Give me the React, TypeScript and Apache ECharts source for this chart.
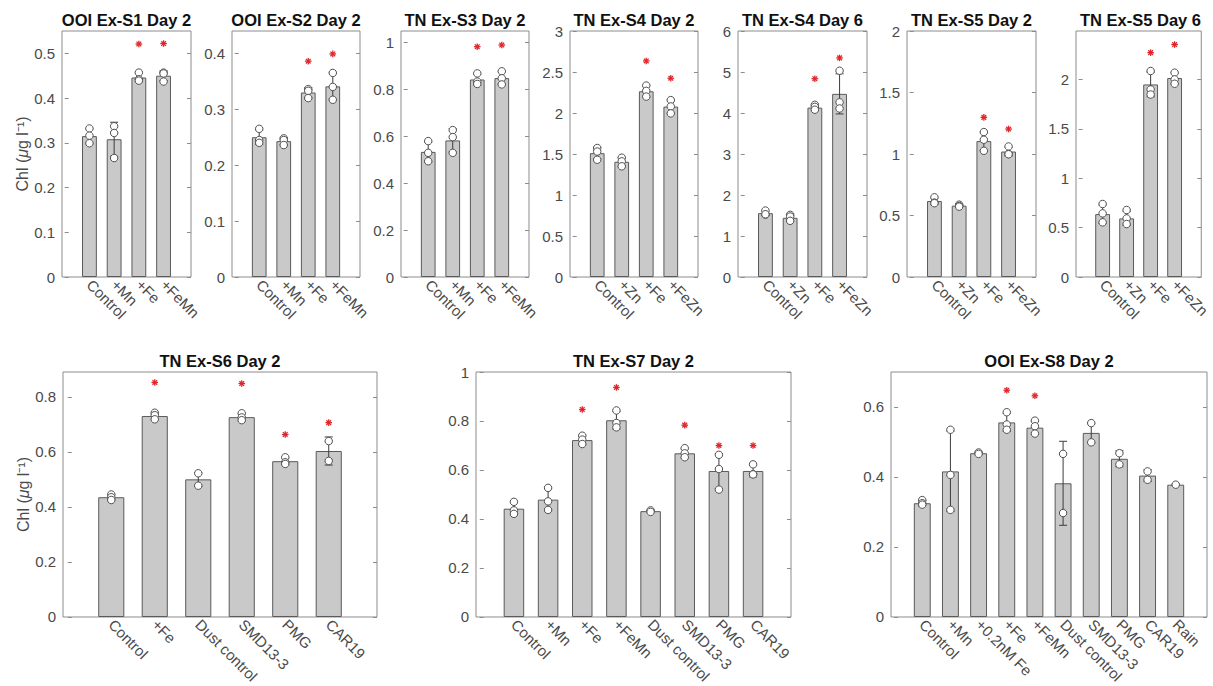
import React, { useEffect, useRef } from 'react';
import * as echarts from 'echarts';

// ---------- data ----------
const catsMn = ['Control', '+Mn', '+Fe', '+FeMn'];
const catsZn = ['Control', '+Zn', '+Fe', '+FeZn'];
const catsS6 = ['Control', '+Fe', 'Dust control', 'SMD13-3', 'PMG', 'CAR19'];
const catsS7 = ['Control', '+Mn', '+Fe', '+FeMn', 'Dust control', 'SMD13-3', 'PMG', 'CAR19'];
const catsS8 = ['Control', '+Mn', '+0.2nM Fe', '+Fe', '+FeMn', 'Dust control', 'SMD13-3', 'PMG', 'CAR19', 'Rain'];

const s1Means = [0.315, 0.308, 0.446, 0.45];
const s1Errs = [0.016, 0.038, 0.01, 0.011];
const s1Pts = [[0.332, 0.316, 0.299], [0.337, 0.322, 0.266], [0.457, 0.442, 0.439], [0.457, 0.455, 0.437]];
const s1Stars = [null, null, 0.521, 0.522];
const s1Ticks = [0, 0.1, 0.2, 0.3, 0.4, 0.5];

const s2Means = [0.25, 0.243, 0.33, 0.341];
const s2Errs = [0.013, 0.006, 0.009, 0.024];
const s2Pts = [[0.265, 0.245, 0.24], [0.248, 0.245, 0.236], [0.336, 0.333, 0.32], [0.365, 0.34, 0.317]];
const s2Stars = [null, null, 0.386, 0.399];
const s2Ticks = [0, 0.1, 0.2, 0.3, 0.4];

const s3Means = [0.534, 0.583, 0.843, 0.849];
const s3Errs = [0.043, 0.05, 0.024, 0.028];
const s3Pts = [[0.58, 0.53, 0.494], [0.627, 0.597, 0.53], [0.869, 0.834, 0.824], [0.878, 0.848, 0.822]];
const s3Stars = [null, null, 0.983, 0.99];
const s3Ticks = [0, 0.2, 0.4, 0.6, 0.8, 1];

const s4d2Means = [1.51, 1.405, 2.265, 2.078];
const s4d2Errs = [0.073, 0.053, 0.068, 0.081];
const s4d2Pts = [[1.573, 1.53, 1.43], [1.455, 1.41, 1.35], [2.335, 2.27, 2.2], [2.157, 2.08, 1.995]];
const s4d2Stars = [null, null, 2.635, 2.424];
const s4d2Ticks = [0, 0.5, 1, 1.5, 2, 2.5, 3];

const s4d6Means = [1.557, 1.443, 4.131, 4.467];
const s4d6Errs = [0.055, 0.075, 0.06, 0.49];
const s4d6Pts = [[1.62, 1.52, 1.53], [1.516, 1.475, 1.37], [4.2, 4.15, 4.08], [5.03, 4.26, 4.11]];
const s4d6Stars = [null, null, 4.836, 5.344];
const s4d6Ticks = [0, 1, 2, 3, 4, 5, 6];

const s5d2Means = [0.618, 0.58, 1.105, 1.02];
const s5d2Errs = [0.026, 0.008, 0.076, 0.036];
const s5d2Pts = [[0.648, 0.605, 0.6], [0.588, 0.577, 0.572], [1.178, 1.116, 1.026], [1.061, 1.0, 0.998]];
const s5d2Stars = [null, null, 1.298, 1.203];
const s5d2Ticks = [0, 0.5, 1, 1.5, 2];

const s5d6Means = [0.637, 0.593, 1.949, 2.014];
const s5d6Errs = [0.093, 0.071, 0.125, 0.056];
const s5d6Pts = [[0.739, 0.644, 0.553], [0.678, 0.593, 0.536], [2.085, 1.898, 1.847], [2.068, 2.0, 1.956]];
const s5d6Stars = [null, null, 2.271, 2.353];
const s5d6Ticks = [0, 0.5, 1, 1.5, 2];

const s6Means = [0.435, 0.73, 0.5, 0.726, 0.566, 0.603];
const s6Errs = [0.01, 0.012, 0.025, 0.013, 0.012, 0.051];
const s6Pts = [[0.445, 0.435, 0.425], [0.742, 0.733, 0.718], [0.522, 0.477], [0.74, 0.725, 0.715], [0.58, 0.562, 0.556], [0.639, 0.567]];
const s6Stars = [null, 0.852, null, 0.848, 0.663, 0.706];
const s6Ticks = [0, 0.2, 0.4, 0.6, 0.8];

const s7Means = [0.442, 0.479, 0.722, 0.803, 0.432, 0.668, 0.596, 0.596];
const s7Errs = [0.025, 0.045, 0.017, 0.036, 0.004, 0.019, 0.071, 0.024];
const s7Pts = [[0.47, 0.435, 0.421], [0.527, 0.472, 0.437], [0.74, 0.724, 0.706], [0.843, 0.792, 0.774], [0.435, 0.429], [0.689, 0.668, 0.652], [0.662, 0.604, 0.52], [0.623, 0.583, 0.582]];
const s7Stars = [null, null, 0.847, 0.937, null, 0.783, 0.7, 0.7];
const s7Ticks = [0, 0.2, 0.4, 0.6, 0.8, 1];

const s8Means = [0.325, 0.416, 0.468, 0.556, 0.541, 0.382, 0.526, 0.452, 0.404, 0.378];
const s8Errs = [0.008, 0.115, 0.003, 0.026, 0.019, 0.12, 0.028, 0.023, 0.017, 0.002];
const s8Pts = [[0.334, 0.325, 0.321], [0.535, 0.406, 0.306], [0.47, 0.466], [0.585, 0.55, 0.535], [0.561, 0.545, 0.524], [0.466, 0.297], [0.554, 0.499], [0.468, 0.436], [0.416, 0.392], [0.378]];
const s8Stars = [null, null, null, 0.648, 0.632, null, null, null, null, null];
const s8Ticks = [0, 0.2, 0.4, 0.6];

type Panel = {
  title: string; cats: string[]; means: number[]; errs: number[]; pts: number[][];
  stars: (number | null)[]; ymax: number; ticks: number[]; ylabel?: boolean;
};

const panels: Panel[] = [
  { title: 'OOI Ex-S1 Day 2', cats: catsMn, means: s1Means, errs: s1Errs, pts: s1Pts, stars: s1Stars, ymax: 0.55, ticks: s1Ticks, ylabel: true },
  { title: 'OOI Ex-S2 Day 2', cats: catsMn, means: s2Means, errs: s2Errs, pts: s2Pts, stars: s2Stars, ymax: 0.44, ticks: s2Ticks },
  { title: 'TN Ex-S3 Day 2', cats: catsMn, means: s3Means, errs: s3Errs, pts: s3Pts, stars: s3Stars, ymax: 1.05, ticks: s3Ticks },
  { title: 'TN Ex-S4 Day 2', cats: catsZn, means: s4d2Means, errs: s4d2Errs, pts: s4d2Pts, stars: s4d2Stars, ymax: 3, ticks: s4d2Ticks },
  { title: 'TN Ex-S4 Day 6', cats: catsZn, means: s4d6Means, errs: s4d6Errs, pts: s4d6Pts, stars: s4d6Stars, ymax: 6, ticks: s4d6Ticks },
  { title: 'TN Ex-S5 Day 2', cats: catsZn, means: s5d2Means, errs: s5d2Errs, pts: s5d2Pts, stars: s5d2Stars, ymax: 2, ticks: s5d2Ticks },
  { title: 'TN Ex-S5 Day 6', cats: catsZn, means: s5d6Means, errs: s5d6Errs, pts: s5d6Pts, stars: s5d6Stars, ymax: 2.49, ticks: s5d6Ticks },
  { title: 'TN Ex-S6 Day 2', cats: catsS6, means: s6Means, errs: s6Errs, pts: s6Pts, stars: s6Stars, ymax: 0.89, ticks: s6Ticks, ylabel: true },
  { title: 'TN Ex-S7 Day 2', cats: catsS7, means: s7Means, errs: s7Errs, pts: s7Pts, stars: s7Stars, ymax: 1.0, ticks: s7Ticks },
  { title: 'OOI Ex-S8 Day 2', cats: catsS8, means: s8Means, errs: s8Errs, pts: s8Pts, stars: s8Stars, ymax: 0.7, ticks: s8Ticks },
];

// ---------- layout ----------
const layouts = [
  { left: 62, top: 31, width: 129, height: 246, titleY: 20 },
  { left: 232, top: 31, width: 128, height: 246, titleY: 20 },
  { left: 401, top: 31, width: 128, height: 246, titleY: 20 },
  { left: 570, top: 31, width: 128, height: 246, titleY: 20 },
  { left: 738, top: 31, width: 129, height: 246, titleY: 20 },
  { left: 907, top: 31, width: 129, height: 246, titleY: 20 },
  { left: 1076, top: 31, width: 129, height: 246, titleY: 20 },
  { left: 63, top: 372, width: 314, height: 245, titleY: 361 },
  { left: 476, top: 372, width: 315, height: 245, titleY: 361 },
  { left: 891, top: 372, width: 316, height: 245, titleY: 361 },
];

const FONT = '"Liberation Sans", Arial, Helvetica, sans-serif';
const FRAME = '#8c8c8c';
const TXT = '#4a4a4a';

function buildOption() {
  const grid: any[] = [];
  const xAxis: any[] = [];
  const yAxis: any[] = [];
  const series: any[] = [];
  const graphic: any[] = [];

  panels.forEach((p, i) => {
    const L = layouts[i];
    const n = p.cats.length;
    const xmin = -0.11;
    const xmax = n + 1.11;
    const barW = (0.6 * L.width) / (xmax - xmin);
    const idx = p.cats.map((_, k) => k + 1);

    grid.push({ left: L.left, top: L.top, width: L.width, height: L.height, show: true, borderColor: FRAME, borderWidth: 1, backgroundColor: 'transparent' });

    xAxis.push({
      type: 'value', gridIndex: i, min: xmin, max: xmax,
      splitLine: { show: false }, axisLine: { show: false }, axisTick: { show: false },
      axisLabel: {
        customValues: idx,
        formatter: (v: number) => p.cats[Math.round(v) - 1] ?? '',
        rotate: -45, margin: 5, fontSize: 15, color: TXT, fontFamily: FONT,
        showMinLabel: true, showMaxLabel: true, hideOverlap: false,
      },
    });

    const yl: any = {
      type: 'value', gridIndex: i, min: 0, max: p.ymax, position: 'left',
      splitLine: { show: false }, axisLine: { show: false },
      axisTick: { show: true, inside: true, length: 4, customValues: p.ticks, lineStyle: { color: FRAME } },
      axisLabel: { customValues: p.ticks, formatter: (v: number) => String(v), margin: 7, fontSize: 15, color: TXT, fontFamily: FONT },
    };
    if (p.ylabel) {
      yl.name = '{n|Chl (}{m|μ}{n|g l⁻¹)}';
      yl.nameLocation = 'middle';
      yl.nameGap = 32;
      yl.nameRotate = 90;
      yl.nameTextStyle = {
        color: TXT, fontFamily: FONT, fontSize: 16,
        rich: {
          n: { fontSize: 16, color: TXT, fontFamily: FONT },
          m: { fontSize: 16, color: TXT, fontFamily: FONT, fontStyle: 'italic' },
        },
      };
    }
    yAxis.push(yl);
    yAxis.push({
      type: 'value', gridIndex: i, min: 0, max: p.ymax, position: 'right',
      splitLine: { show: false }, axisLine: { show: false },
      axisTick: { show: true, inside: true, length: 4, customValues: p.ticks, lineStyle: { color: FRAME } },
      axisLabel: { show: false },
    });

    series.push({
      type: 'bar', xAxisIndex: i, yAxisIndex: 2 * i,
      data: p.means.map((m, k) => [k + 1, m]),
      barWidth: barW,
      itemStyle: { color: '#c9c9c9', borderColor: '#5a5a5a', borderWidth: 1 },
      z: 2, silent: true,
    });

    series.push({
      type: 'custom', xAxisIndex: i, yAxisIndex: 2 * i,
      data: p.means.map((m, k) => [k + 1, m, p.errs[k]]),
      encode: { x: 0, y: 1 },
      z: 3, silent: true,
      renderItem: (_params: any, api: any) => {
        const x = api.value(0);
        const m = api.value(1);
        const e = api.value(2);
        const a = api.coord([x, m + e]);
        const b = api.coord([x, m - e]);
        const c = 4;
        const st = { stroke: '#3c3c3c', lineWidth: 1 };
        return {
          type: 'group',
          children: [
            { type: 'line', shape: { x1: a[0], y1: a[1], x2: b[0], y2: b[1] }, style: st },
            { type: 'line', shape: { x1: a[0] - c, y1: a[1], x2: a[0] + c, y2: a[1] }, style: st },
            { type: 'line', shape: { x1: b[0] - c, y1: b[1], x2: b[0] + c, y2: b[1] }, style: st },
          ],
        };
      },
    });

    series.push({
      type: 'scatter', xAxisIndex: i, yAxisIndex: 2 * i,
      data: p.pts.flatMap((arr, k) => arr.map((v) => [k + 1, v])),
      symbol: 'circle', symbolSize: 7.5,
      itemStyle: { color: '#ffffff', borderColor: '#505050', borderWidth: 1, opacity: 1 },
      z: 4, silent: true,
    });

    const starData = p.stars
      .map((s, k) => (s == null ? null : [k + 1, s]))
      .filter((d) => d !== null);
    series.push({
      type: 'custom', xAxisIndex: i, yAxisIndex: 2 * i,
      data: starData,
      encode: { x: 0, y: 1 },
      z: 5, silent: true,
      renderItem: (_params: any, api: any) => {
        const c = api.coord([api.value(0), api.value(1)]);
        const r = 3.3;
        const d = r * 0.7071;
        const st = { stroke: '#e0252b', lineWidth: 1.3 };
        return {
          type: 'group',
          children: [
            { type: 'line', shape: { x1: c[0], y1: c[1] - r, x2: c[0], y2: c[1] + r }, style: st },
            { type: 'line', shape: { x1: c[0] - r, y1: c[1], x2: c[0] + r, y2: c[1] }, style: st },
            { type: 'line', shape: { x1: c[0] - d, y1: c[1] - d, x2: c[0] + d, y2: c[1] + d }, style: st },
            { type: 'line', shape: { x1: c[0] - d, y1: c[1] + d, x2: c[0] + d, y2: c[1] - d }, style: st },
          ],
        };
      },
    });

    graphic.push({
      type: 'text', x: L.left + L.width / 2, y: L.titleY,
      style: {
        text: p.title, fill: '#111111', fontSize: 16.5, fontWeight: 'bold', fontFamily: FONT,
        align: 'center', verticalAlign: 'middle', textAlign: 'center', textVerticalAlign: 'middle',
      },
    });
  });

  return { animation: false, backgroundColor: '#ffffff', grid, xAxis, yAxis, series, graphic };
}

export default function App() {
  const ref = useRef<HTMLDivElement>(null);
  useEffect(() => {
    if (!ref.current) return;
    const chart = echarts.init(ref.current, null, { renderer: 'svg' });
    chart.setOption(buildOption() as any);
    return () => {
      chart.dispose();
    };
  }, []);
  return (
    <div
      ref={ref}
      style={{ position: 'fixed', left: 0, top: 0, width: 1213, height: 686, background: '#ffffff' }}
    />
  );
}
